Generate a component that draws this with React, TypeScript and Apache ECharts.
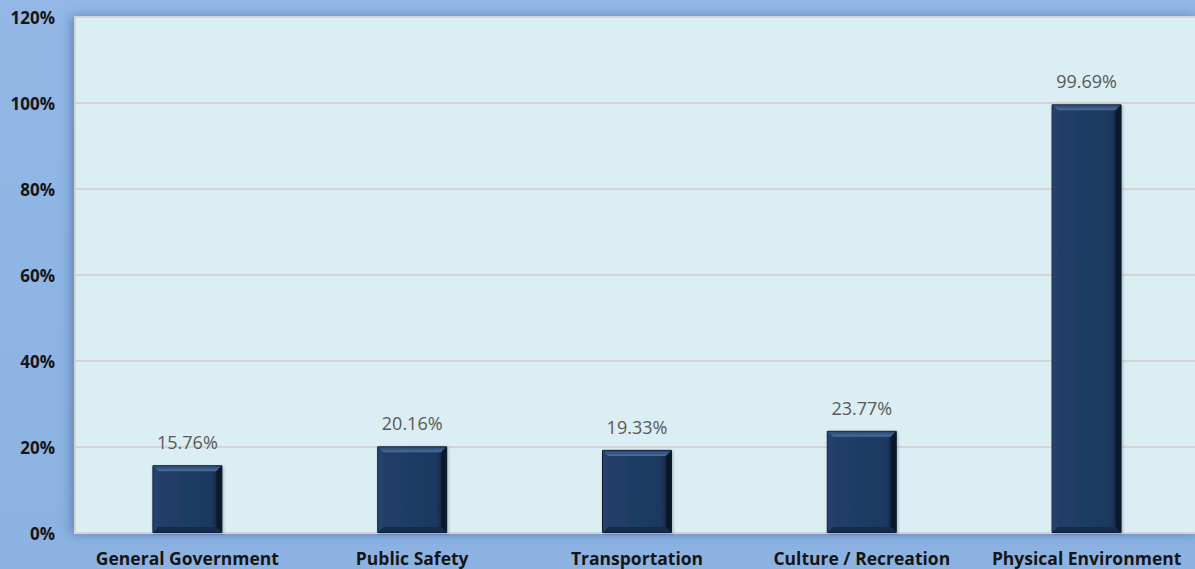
import React, { useEffect, useRef } from "react";
import * as echarts from "echarts";

const categories = [
  "General Government",
  "Public Safety",
  "Transportation",
  "Culture / Recreation",
  "Physical Environment",
];
const values = [15.76, 20.16, 19.33, 23.77, 99.69];
const yTicks = [0, 20, 40, 60, 80, 100, 120];

export default function App() {
  const ref = useRef<HTMLDivElement>(null);
  useEffect(() => {
    if (!ref.current) return;
    const chart = echarts.init(ref.current, null, { renderer: "svg" });
    const font = "'Open Sans', 'Noto Sans', sans-serif";
    chart.setOption({
      animation: false,
      backgroundColor: {
        type: "linear",
        x: 0,
        y: 0,
        x2: 0,
        y2: 1,
        colorStops: [
          { offset: 0, color: "#93b8e6" },
          { offset: 1, color: "#8cb2e2" },
        ],
      },
      grid: {
        left: 75,
        top: 17,
        width: 1124,
        bottom: 36,
        outerBoundsMode: "none",
        containLabel: false,
        show: true,
        backgroundColor: "#dbeef4",
        borderColor: "#d4d4d4",
        borderWidth: 2,
        shadowColor: "rgba(40,70,130,0.45)",
        shadowBlur: 12,
        shadowOffsetX: -3,
      },
      xAxis: {
        type: "category",
        data: categories,
        axisLine: { show: false },
        axisTick: { show: false },
        axisLabel: {
          interval: 0,
          hideOverlap: false,
          margin: 16,
          fontFamily: font,
          fontWeight: "bold",
          fontSize: 17.5,
          color: "#151515",
        },
      },
      yAxis: {
        type: "value",
        min: 0,
        max: 120,
        interval: 20,
        axisLine: { show: false },
        axisTick: { show: false },
        splitLine: { lineStyle: { color: "#d2d4d6", width: 2 } },
        axisLabel: {
          margin: 20,
          fontFamily: font,
          fontWeight: "bold",
          fontSize: 17,
          color: "#151515",
          formatter: (v: number) => (yTicks.includes(v) ? v + "%" : ""),
        },
      },
      series: [
        {
          type: "bar",
          data: values,
          barWidth: 70,
          itemStyle: {
            color: {
              type: "linear",
              x: 0,
              y: 0,
              x2: 1,
              y2: 0,
              colorStops: [
                { offset: 0, color: "#223f69" },
                { offset: 0.85, color: "#1c3960" },
                { offset: 1, color: "#0c1a30" },
              ],
            },
            borderColor: "#0e1d35",
            borderWidth: 1,
            shadowColor: "rgba(0,0,0,0.25)",
            shadowBlur: 3,
            shadowOffsetX: 1,
            shadowOffsetY: 1,
          },
          label: {
            show: true,
            position: "top",
            distance: 14,
            fontFamily: font,
            fontSize: 18,
            color: "#595959",
            formatter: (p: any) => p.value.toFixed(2) + "%",
          },
        },
        {
          type: "custom",
          silent: true,
          z: 3,
          data: values.map((v, i) => [i, v]),
          renderItem: (params: any, api: any) => {
            const top = api.coord([api.value(0), api.value(1)]);
            const base = api.coord([api.value(0), 0]);
            const w = 70;
            const x0 = top[0] - w / 2;
            const x1 = top[0] + w / 2;
            const y0 = top[1];
            const y1 = base[1];
            const b = 6;
            return {
              type: "group",
              children: [
                {
                  type: "polygon",
                  shape: {
                    points: [
                      [x0 + 1, y0 + 1],
                      [x1 - 1, y0 + 1],
                      [x1 - b, y0 + b],
                      [x0 + b, y0 + b],
                    ],
                  },
                  style: {
                    fill: {
                      type: "linear",
                      x: 0,
                      y: 0,
                      x2: 0,
                      y2: 1,
                      colorStops: [
                        { offset: 0, color: "#2a4a75" },
                        { offset: 1, color: "#4d6d98" },
                      ],
                    },
                  },
                },
                {
                  type: "polygon",
                  shape: {
                    points: [
                      [x1 - 1, y0 + 1],
                      [x1 - 1, y1 - 1],
                      [x1 - b, y1 - b],
                      [x1 - b, y0 + b],
                    ],
                  },
                  style: { fill: "#0b182c" },
                },
                {
                  type: "polygon",
                  shape: {
                    points: [
                      [x0 + 1, y1 - 1],
                      [x1 - 1, y1 - 1],
                      [x1 - b, y1 - b],
                      [x0 + b, y1 - b],
                    ],
                  },
                  style: { fill: "#132a4a" },
                },
                {
                  type: "polygon",
                  shape: {
                    points: [
                      [x0 + 1, y0 + 1],
                      [x0 + b, y0 + b],
                      [x0 + b, y1 - b],
                      [x0 + 1, y1 - 1],
                    ],
                  },
                  style: { fill: "#24426c" },
                },
              ],
            };
          },
        },
      ],
    });
    return () => chart.dispose();
  }, []);
  return (
    <div
      ref={ref}
      style={{ position: "fixed", left: 0, top: 0, width: 1195, height: 569 }}
    />
  );
}
